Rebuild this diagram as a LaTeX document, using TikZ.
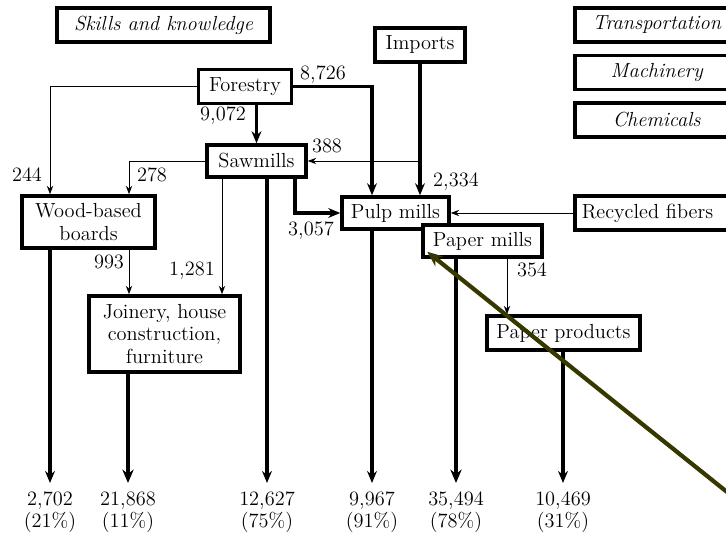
\documentclass[tikz,border=0pt]{standalone}
\usepackage{tikz}
\usetikzlibrary{arrows.meta,calc,positioning}
\definecolor{pointerolive}{RGB}{55,55,0}
\newcommand{\pxl}{0.025cm}
\newcommand{\diagfont}{\fontsize{14.5}{16}\selectfont}
\tikzset{
  flowbox/.style={draw,line width=2.5pt,fill=white,inner sep=0pt,align=center},
  sidebox/.style={flowbox,anchor=west,minimum width=164*\pxl,minimum height=34*\pxl,font=\diagfont\itshape},
  thinflow/.style={line width=0.7pt,-{Stealth[length=6pt,width=4.5pt]}},
  thickflow/.style={line width=2.2pt,-{Stealth[length=8.5pt,width=7pt]}},
  heavyflow/.style={line width=3pt,-{Stealth[length=9.5pt,width=8pt]}},
  qty/.style={inner sep=0pt},
  outlbl/.style={anchor=north,inner sep=6pt,align=center}
}
\begin{document}
\begin{tikzpicture}[x=\pxl,y=-\pxl,font=\diagfont]
\useasboundingbox (0,0) rectangle (726,536);
% side boxes
\node[flowbox,minimum width=213*\pxl,minimum height=34*\pxl,font=\diagfont\itshape] (skills) at (163.5,25) {Skills and knowledge};
\node[sidebox] (transport) at (573,25) {Transportation};
\node[sidebox] (machinery) at (573,72.5) {Machinery};
\node[sidebox] (chemicals) at (573,120) {Chemicals};
% main chain
\node[flowbox,minimum width=90*\pxl,minimum height=34*\pxl] (imports) at (420,45) {Imports};
\node[flowbox,minimum width=93*\pxl,minimum height=34*\pxl] (forestry) at (245,86.5) {Forestry};
\node[flowbox,minimum width=99*\pxl,minimum height=32*\pxl] (sawmills) at (256.5,161) {Sawmills};
\node[flowbox,minimum width=107*\pxl,minimum height=32*\pxl] (pulp) at (395.5,213) {Pulp mills};
\node[flowbox,minimum width=119*\pxl,minimum height=32*\pxl] (paper) at (482.5,241) {Paper mills};
\node[flowbox,anchor=west,text width=156*\pxl,align=left,inner xsep=7*\pxl,minimum height=34*\pxl] (recycled) at (573,213) {Recycled fibers};
\node[flowbox,minimum width=153*\pxl,minimum height=34*\pxl] (products) at (563.5,333) {Paper products};
\node[flowbox,minimum width=133*\pxl,minimum height=52*\pxl] (wood) at (88.5,222) {Wood-based\\boards};
\node[flowbox,minimum width=151*\pxl,minimum height=76*\pxl] (joinery) at (164.5,334) {Joinery, house\\construction,\\furniture};
% outputs
\node[outlbl] (outWood) at (50,483) {2,702\\(21\%)};
\node[outlbl] (outJoin) at (128,483) {21,868\\(11\%)};
\node[outlbl] (outSaw) at (267,483) {12,627\\(75\%)};
\node[outlbl] (outPulp) at (372,483) {9,967\\(91\%)};
\node[outlbl] (outPaper) at (456,483) {35,494\\(78\%)};
\node[outlbl] (outProd) at (563,483) {10,469\\(31\%)};
% columns for the branching lines
\coordinate (colWood) at (50,0);
\coordinate (colJoin) at (129,0);
\coordinate (colSaw) at (222,0);
\coordinate (colPulp) at (295,0);
\coordinate (colFor) at (372,0);
\coordinate (colProd) at (507,0);
% flows
\draw[thinflow] (forestry.west) -| (wood.north -| colWood);
\draw[thickflow] (forestry.south -| sawmills.north) -- (sawmills.north);
\draw[thickflow] (forestry.east) -| (pulp.north -| colFor);
\draw[thickflow] (imports.south) -- (pulp.north -| imports.south);
\draw[thinflow] (sawmills.east -| imports.south) -- (sawmills.east);
\draw[thinflow] (sawmills.west) -| (wood.north -| colJoin);
\draw[thickflow] (sawmills.south -| colPulp) |- (pulp.west);
\draw[thinflow] (sawmills.south -| colSaw) -- (joinery.north -| colSaw);
\draw[thickflow] (sawmills.south -| outSaw.north) -- (outSaw.north);
\draw[thinflow] (recycled.west) -- (pulp.east);
\draw[thickflow] (pulp.south -| outPulp.north) -- (outPulp.north);
\draw[heavyflow] (paper.south -| outPaper.north) -- (outPaper.north);
\draw[thinflow] (paper.south -| colProd) -- (products.north -| colProd);
\draw[thickflow] (products.south -| outProd.north) -- (outProd.north);
\draw[thickflow] (wood.south -| outWood.north) -- (outWood.north);
\draw[thinflow] (wood.south -| colJoin) -- (joinery.north -| colJoin);
\draw[heavyflow] (joinery.south -| outJoin.north) -- (outJoin.north);
% quantities
\node[qty] (q244) at (27,175) {244};
\node[qty] (q278) at (152,175) {278};
\node[qty] (q8726) at (323,75) {8,726};
\node[qty] (q9072) at (223,116) {9,072};
\node[qty] (q388) at (327,146) {388};
\node[qty] (q2334) at (456,182) {2,334};
\node[qty] (q3057) at (311,231) {3,057};
\node[qty] (q993) at (109,262) {993};
\node[qty] (q1281) at (192,271) {1,281};
\node[qty] (q354) at (532,270) {354};
% pointer
\coordinate (ptrTail) at (742,504);
\draw[pointerolive,line width=3pt,-{Stealth[length=11pt,width=9pt]}] (ptrTail) -- ([shift={(6,-7)}]paper.south west);
\end{tikzpicture}
\end{document}
